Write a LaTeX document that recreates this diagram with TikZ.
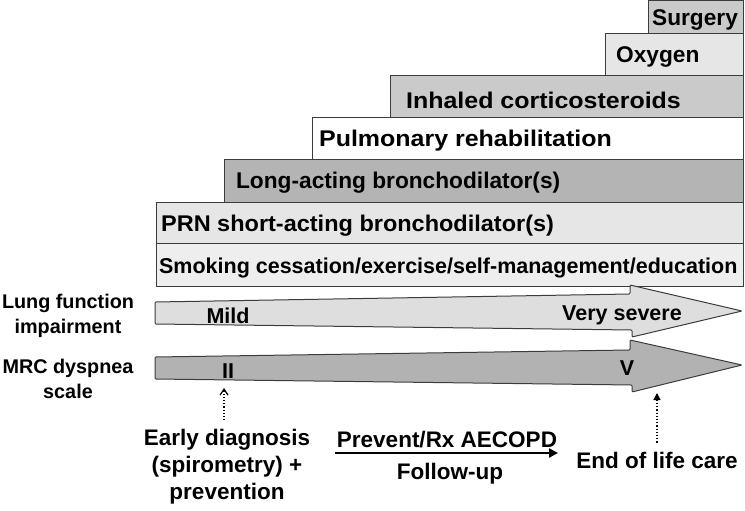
\documentclass[tikz,border=0pt]{standalone}
\usepackage{fontspec}
\setmainfont{Liberation Sans}
\usetikzlibrary{arrows.meta}

\definecolor{edgegrey}{RGB}{60,60,60}
\definecolor{darkfill}{RGB}{180,180,180}
\definecolor{midfill}{RGB}{202,202,202}
\definecolor{lightfill}{RGB}{230,230,230}
\definecolor{palefill}{RGB}{238,238,238}
\definecolor{lungfill}{RGB}{222,222,222}
\definecolor{mrcfill}{RGB}{178,178,178}

\tikzset{every picture/.style={line width=0.75pt}}
\tikzset{
	stepbox/.style={draw=edgegrey, line width=1pt},
	boxtext/.style={anchor=west, inner sep=0.75pt, font=\fontsize{22.7}{26}\selectfont\bfseries},
	widetext/.style={boxtext, font=\fontsize{22.7}{26}\selectfont\bfseries\addfontfeature{FakeStretch=1.1}},
	smalltext/.style={inner sep=0.75pt, align=center, font=\fontsize{19.8}{25}\selectfont\bfseries},
	scaletext/.style={inner sep=0.75pt, font=\fontsize{21.5}{25}\selectfont\bfseries},
	bigtext/.style={inner sep=0.75pt, align=center, font=\fontsize{22.5}{27}\selectfont\bfseries},
	scalearrow/.style={draw=edgegrey, line width=1pt, rounded corners=1pt},
	dotarrow/.style={dotted, line width=1.2pt},
}

\begin{document}
\begin{tikzpicture}[x=1pt,y=1pt,yscale=-1,xscale=1]
	\useasboundingbox (0,0) rectangle (745,511);
	
	%Shape: Rectangle [Surgery]
	\draw [stepbox, fill=midfill] (648,1) rectangle (743,34) ;
	%Shape: Rectangle [Oxygen]
	\draw [stepbox, fill=lightfill] (605,34) rectangle (743,76) ;
	%Shape: Rectangle [Inhaled corticosteroids]
	\draw [stepbox, fill=midfill] (390,76) rectangle (743,118) ;
	%Shape: Rectangle [Pulmonary rehabilitation]
	\draw [stepbox, fill=white] (312,118) rectangle (743,159) ;
	%Shape: Rectangle [Long-acting]
	\draw [stepbox, fill=darkfill] (224,159) rectangle (743,202) ;
	%Shape: Rectangle [PRN]
	\draw [stepbox, fill=lightfill] (156,202) rectangle (743,243) ;
	%Shape: Rectangle [Smoking cessation]
	\draw [stepbox, fill=palefill] (156,243) rectangle (743,286) ;
	
	%Shape: Arrow [lung function]
	\draw [scalearrow, fill=lungfill] (155,302) -- (630,294) -- (630,285) -- (742,311) -- (632,337) -- (632,330) -- (155,324) -- cycle ;
	%Shape: Arrow [MRC dyspnea]
	\draw [scalearrow, fill=mrcfill] (155,357) -- (630,350) -- (630,340) -- (742,365) -- (632,392) -- (632,385) -- (155,379) -- cycle ;
	
	% Text Node
	\node [boxtext] (surgery) at (651,19.5) {Surgery};
	% Text Node
	\node [boxtext] (oxygen) at (615,57) {Oxygen};
	% Text Node
	\node [widetext] (ics) at (405,100) {Inhaled corticosteroids};
	% Text Node
	\node [widetext] (rehab) at (318,141) {Pulmonary rehabilitation};
	% Text Node
	\node [boxtext] (laba) at (235,183) {Long-acting bronchodilator(s)};
	% Text Node
	\node [boxtext, font=\fontsize{22.7}{26}\selectfont\bfseries\addfontfeature{FakeStretch=1.035}] (prn) at (160,226) {PRN short-acting bronchodilator(s)};
	% Text Node
	\node [boxtext, font=\fontsize{21.5}{24}\selectfont\bfseries] (smoking) at (158,267.5) {Smoking cessation/exercise/self-management/education};
	
	% Text Node
	\node [smalltext] (lunglabel) at (68,316) {Lung function\\impairment};
	% Text Node
	\node [smalltext] (mrclabel) at (68,379) {MRC dyspnea\\scale};
	% Text Node
	\node [scaletext] (mild) at (228,315.5) {Mild};
	% Text Node
	\node [scaletext] (verysevere) at (622,315) {Very severe};
	% Text Node
	\node [scaletext] (two) at (228,371) {II};
	% Text Node
	\node [scaletext] (five) at (627,368) {V};
	
	% Text Node
	\node [bigtext] (early) at (227,467) {Early diagnosis\\(spirometry) +\\prevention};
	% Text Node
	\node [bigtext] (prevent) at (447,440) {Prevent/Rx AECOPD};
	% Text Node
	\node [bigtext] (followup) at (450,474) {Follow-up};
	% Text Node
	\node [bigtext] (endlife) at (657,460) {End of life care};
	
	\coordinate (earlytip) at (224,388);
	\coordinate (endtip) at (657,393);
	\coordinate (pathstart) at (335,453);
	\coordinate (pathend) at (558,453);
	
	%Dotted Arrows
	\draw [dotarrow, -{Straight Barb[length=6pt,width=8pt,line width=1.2pt]}] (early.north -| earlytip) ++(0,-8) -- (earlytip) ;
	\draw [dotarrow, -{Triangle[length=7pt,width=7pt]}] (endlife.north -| endtip) ++(0,-8) -- (endtip) ;
	%Straight Lines [care path]
	\draw [line width=2.5pt, -{Triangle[length=9pt,width=9pt]}] (pathstart) -- (pathend) ;
	
\end{tikzpicture}
\end{document}
